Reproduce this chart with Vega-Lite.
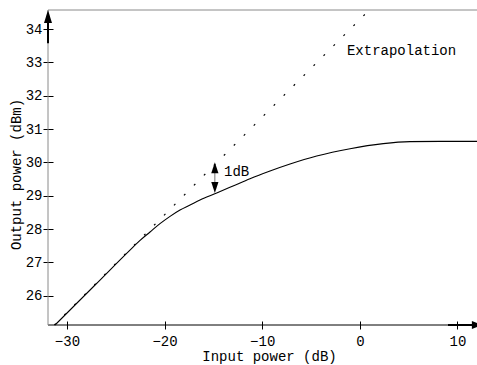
{
  "$schema": "https://vega.github.io/schema/vega-lite/v6.json",
  "width": 429,
  "height": 315,
  "autosize": "none",
  "padding": {"left": 48, "top": 10, "right": 0, "bottom": 40},
  "background": "white",
  "config": {
    "view": {"stroke": null},
    "font": "Liberation Mono",
    "axis": {
      "labelFont": "Liberation Mono",
      "titleFont": "Liberation Mono",
      "labelFontSize": 14,
      "titleFontSize": 14,
      "titleFontWeight": "normal",
      "labelColor": "black",
      "titleColor": "black",
      "tickColor": "black",
      "grid": false,
      "domain": false,
      "labelOverlap": false
    }
  },
  "datasets": {
    "curve": [
      {"x": -31.22, "y": 25.12},
      {"x": -27.12, "y": 26.32},
      {"x": -23.36, "y": 27.42},
      {"x": -22.51, "y": 27.66},
      {"x": -21.49, "y": 27.91},
      {"x": -20.47, "y": 28.16},
      {"x": -19.44, "y": 28.38},
      {"x": -18.42, "y": 28.57},
      {"x": -17.39, "y": 28.72},
      {"x": -16.37, "y": 28.87},
      {"x": -14.66, "y": 29.08},
      {"x": -12.99, "y": 29.29},
      {"x": -11.25, "y": 29.51},
      {"x": -9.2, "y": 29.74},
      {"x": -7.15, "y": 29.95},
      {"x": -4.42, "y": 30.19},
      {"x": -1.0, "y": 30.41},
      {"x": 2.4, "y": 30.56},
      {"x": 5.13, "y": 30.62},
      {"x": 8.2, "y": 30.63},
      {"x": 12.0, "y": 30.63}
    ],
    "extrap": [
      {"x": -31.29, "y": 25.12},
      {"x": 0.97, "y": 34.57}
    ],
    "frame": [
      {"part": "bottom", "x": -31.94, "x2": 12.5, "y": 25.12, "y2": 25.12},
      {"part": "top", "x": -31.94, "x2": 12.5, "y": 34.57, "y2": 34.57},
      {"part": "left", "x": -31.94, "x2": -31.94, "y": 25.12, "y2": 34.57},
      {"part": "gap", "x": -14.85, "x2": -14.85, "y": 29.3, "y2": 29.8}
    ],
    "shafts": [
      {"x": -31.94, "x2": -31.94, "y": 34.2, "y2": 33.57},
      {"x": 9.03, "x2": 12.5, "y": 25.12, "y2": 25.12}
    ],
    "heads": [
      {"x": -31.94, "y": 34.57, "kind": "axis-up"},
      {"x": 12.5, "y": 25.12, "kind": "axis-right"},
      {"x": -14.85, "y": 30.0, "kind": "up"},
      {"x": -14.85, "y": 29.08, "kind": "down"}
    ],
    "notes": [
      {"x": -13.91, "y": 29.59, "label": "1dB"},
      {"x": -1.32, "y": 33.22, "label": "Extrapolation"}
    ]
  },
  "encoding": {
    "x": {
      "field": "x", "type": "quantitative",
      "scale": {"domain": [-31.94, 12.0], "nice": false, "zero": false},
      "axis": {
        "title": "Input power (dB)",
        "values": [-30, -20, -10, 0, 10],
        "format": "d",
        "offset": -4,
        "tickSize": 8,
        "labelPadding": 5,
        "titlePadding": 1,
        "titleX": 221
      }
    },
    "y": {
      "field": "y", "type": "quantitative",
      "scale": {"domain": [25.12, 34.57], "nice": false, "zero": false},
      "axis": {
        "title": "Output power (dBm)",
        "values": [26, 27, 28, 29, 30, 31, 32, 33, 34],
        "format": "d",
        "offset": -5,
        "tickSize": 10,
        "labelPadding": 1,
        "titlePadding": 2,
        "titleY": 164
      }
    }
  },
  "layer": [
    {
      "data": {"name": "frame"},
      "mark": {"type": "rule", "strokeWidth": 1},
      "encoding": {
        "x2": {"field": "x2"},
        "y2": {"field": "y2"},
        "color": {
          "field": "part", "type": "nominal", "legend": null,
          "scale": {"domain": ["bottom", "top", "left", "gap"], "range": ["#000000", "#8a8a8a", "#8a8a8a", "#777777"]}
        }
      }
    },
    {
      "data": {"name": "shafts"},
      "mark": {"type": "rule", "strokeWidth": 2, "color": "black"},
      "encoding": {
        "x2": {"field": "x2"},
        "y2": {"field": "y2"}
      }
    },
    {
      "data": {"name": "extrap"},
      "mark": {"type": "line", "color": "black", "strokeWidth": 1.2, "strokeDash": [2, 12.1]},
      "encoding": {}
    },
    {
      "data": {"name": "curve"},
      "mark": {"type": "line", "color": "black", "strokeWidth": 1.1, "interpolate": "monotone"},
      "encoding": {}
    },
    {
      "data": {"name": "heads"},
      "mark": {"type": "point", "filled": true, "size": 4, "opacity": 1, "strokeWidth": 0},
      "encoding": {
        "shape": {
          "field": "kind", "type": "nominal", "legend": null,
          "scale": {
            "domain": ["axis-up", "axis-right", "up", "down"],
            "range": ["M0,0L4,13L-4,13Z", "M0,0L-10,-4L-10,4Z", "M0,0L3.6,11L-3.6,11Z", "M0,0L3.6,-11L-3.6,-11Z"]
          }
        },
        "color": {"value": "black"}
      }
    },
    {
      "data": {"name": "notes"},
      "mark": {"type": "text", "align": "left", "baseline": "alphabetic", "font": "Liberation Mono", "fontSize": 14, "color": "black"},
      "encoding": {
        "text": {"field": "label"}
      }
    }
  ]
}
